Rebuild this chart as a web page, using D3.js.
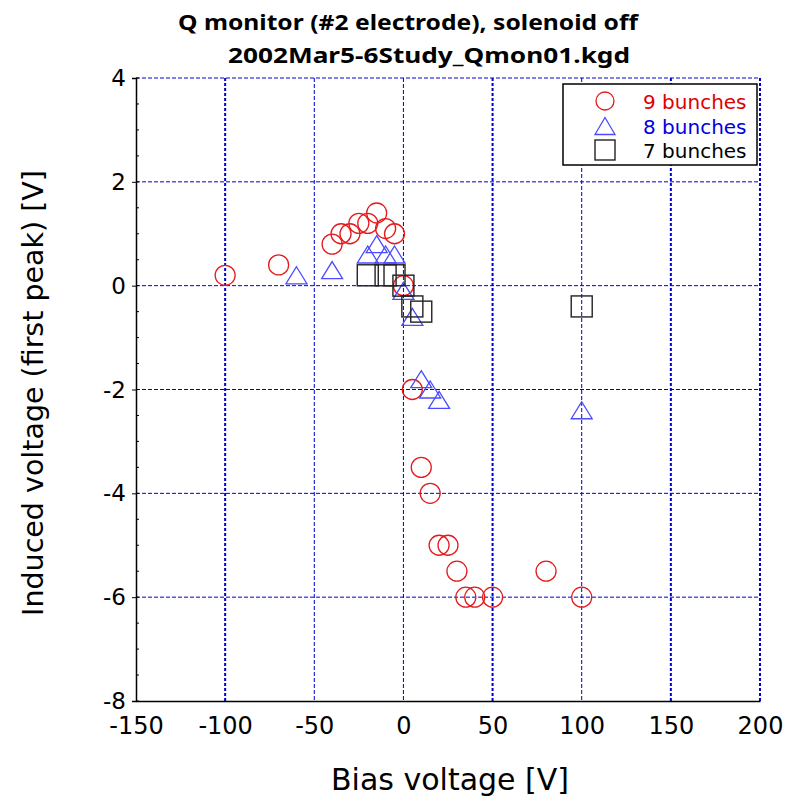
<!DOCTYPE html>
<html>
<head>
<meta charset="utf-8">
<script src="https://cdn.jsdelivr.net/npm/d3@7"></script>
<style>
  html, body { margin: 0; padding: 0; background: #fff; }
  svg { display: block; font-family: "DejaVu Sans", sans-serif; }
</style>
</head>
<body>
<svg id="chart" width="789" height="802"></svg>
<script>
// Bias scan of the Q monitor, electrode #2, solenoid off
const bias9 = [-100, -70, -40, -35, -30, -25, -20, -15, -10, -5, 0, 5, 10, 15, 20, 25, 30, 35, 40, 50, 80, 100];
const volt9 = [0.2, 0.4, 0.8, 1.0, 1.0, 1.2, 1.2, 1.4, 1.1, 1.0, 0, -2, -3.5, -4, -5, -5, -5.5, -6, -6, -6, -5.5, -6];

const bias8 = [-60, -40, -20, -15, -10, -5, 0, 5, 10, 15, 20, 100];
const volt8 = [0.2, 0.3, 0.6, 0.8, 0.6, 0.6, -0.1, -0.6, -1.8, -2.0, -2.2, -2.4];

const bias7 = [-20, -10, -5, 0, 5, 10, 100];
const volt7 = [0.2, 0.2, 0.2, 0, -0.4, -0.5, -0.4];

const xTicks = [-150, -100, -50, 0, 50, 100, 150, 200];
const yTicks = [-8, -6, -4, -2, 0, 2, 4];
const heavyX = [-100, 50, 150, 200];
const lightX = [-50, 0, 100];
const gridY = [-6, -4, -2, 0, 2, 4];

const titleLines = ["Q monitor (#2 electrode), solenoid off", "2002Mar5-6Study_Qmon01.kgd"];
const legendLabels = ["9 bunches", "8 bunches", "7 bunches"];

const svg = d3.select("#chart");
const plotL = 136, plotR = 760, plotT = 78, plotB = 701;

const x = d3.scaleLinear().domain([-150, 200]).range([plotL, plotR]);
const y = d3.scaleLinear().domain([-8, 4]).range([plotB, plotT]);

const gridBlue = "#0000cc";

// grid
const grid = svg.append("g");
grid.selectAll(".gy").data(gridY).join("line")
  .attr("x1", plotL).attr("x2", plotR)
  .attr("y1", d => y(d)).attr("y2", d => y(d))
  .attr("stroke", gridBlue).attr("stroke-width", 1)
  .attr("stroke-dasharray", "4,2");
grid.selectAll(".gxl").data(lightX).join("line")
  .attr("x1", d => x(d)).attr("x2", d => x(d))
  .attr("y1", plotT).attr("y2", plotB)
  .attr("stroke", gridBlue).attr("stroke-width", 1)
  .attr("stroke-dasharray", "4,2");
grid.selectAll(".gxh").data(heavyX).join("line")
  .attr("x1", d => x(d)).attr("x2", d => x(d))
  .attr("y1", plotT).attr("y2", plotB)
  .attr("stroke", gridBlue).attr("stroke-width", 2)
  .attr("stroke-dasharray", "3,2");

// axes
const yAxis = svg.append("g").attr("transform", `translate(${plotL},0)`)
  .call(d3.axisLeft(y).tickValues(yTicks).tickSize(4).tickFormat(d => String(d)));
yAxis.select(".domain").attr("stroke", "#000").attr("stroke-width", 1.5);
yAxis.selectAll("text").attr("font-size", 23).attr("fill", "#000")
  .attr("font-family", "DejaVu Sans").attr("x", -10).attr("dy", "0.33em");

// minor ticks inside the left axis
svg.append("g").selectAll("line").data(d3.range(-8, 4.01, 0.5)).join("line")
  .attr("x1", plotL).attr("x2", plotL + 3)
  .attr("y1", d => y(d)).attr("y2", d => y(d))
  .attr("stroke", "#000").attr("stroke-width", 1);

const xAxis = svg.append("g").attr("transform", `translate(0,${plotB})`)
  .call(d3.axisBottom(x).tickValues(xTicks).tickSize(0).tickFormat(d => String(d)));
xAxis.select(".domain").attr("stroke", "#000").attr("stroke-width", 1.5);
xAxis.selectAll("text").attr("font-size", 24).attr("fill", "#000")
  .attr("font-family", "DejaVu Sans").attr("y", 33).attr("dy", 0);

// markers
const red = "#e41a1c", blue = "#4b4bff", dark = "#222";
const tri = "M0,-8.5L10.5,8.5L-10.5,8.5Z";

svg.append("g").selectAll("circle").data(bias9.map((b, i) => [b, volt9[i]])).join("circle")
  .attr("cx", d => x(d[0])).attr("cy", d => y(d[1])).attr("r", 10)
  .attr("fill", "none").attr("stroke", red).attr("stroke-width", 1.3);

svg.append("g").selectAll("path").data(bias8.map((b, i) => [b, volt8[i]])).join("path")
  .attr("d", tri)
  .attr("transform", d => `translate(${x(d[0])},${y(d[1])})`)
  .attr("fill", "none").attr("stroke", blue).attr("stroke-width", 1.3);

svg.append("g").selectAll("rect").data(bias7.map((b, i) => [b, volt7[i]])).join("rect")
  .attr("x", d => x(d[0]) - 10.5).attr("y", d => y(d[1]) - 10.5)
  .attr("width", 21).attr("height", 21)
  .attr("fill", "none").attr("stroke", dark).attr("stroke-width", 1.4);

// legend
const lg = svg.append("g");
lg.append("rect").attr("x", 563).attr("y", 84).attr("width", 194).attr("height", 81)
  .attr("fill", "#fff").attr("stroke", "#000").attr("stroke-width", 1.5);
const legendColors = [red, blue, dark];
const textColors = ["#e00000", "#0000e0", "#000"];
const rowY = [101, 126, 150];
lg.append("circle").attr("cx", 605).attr("cy", rowY[0]).attr("r", 9)
  .attr("fill", "none").attr("stroke", legendColors[0]).attr("stroke-width", 1.3);
lg.append("path").attr("d", "M0,-8.5L10,8.5L-10,8.5Z")
  .attr("transform", `translate(605,${rowY[1]})`)
  .attr("fill", "none").attr("stroke", legendColors[1]).attr("stroke-width", 1.3);
lg.append("rect").attr("x", 595).attr("y", rowY[2] - 10).attr("width", 20).attr("height", 20)
  .attr("fill", "none").attr("stroke", legendColors[2]).attr("stroke-width", 1.4);
lg.selectAll("text").data(legendLabels).join("text")
  .attr("x", 643).attr("y", (d, i) => rowY[i] + 8)
  .attr("font-size", 20).attr("fill", (d, i) => textColors[i])
  .text(d => d);

// titles
svg.append("text").attr("x", 178).attr("y", 30)
  .attr("font-family", "Noto Sans").attr("font-size", 21).attr("font-weight", "bold")
  .attr("textLength", 460).attr("lengthAdjust", "spacingAndGlyphs")
  .text(titleLines[0]);
svg.append("text").attr("x", 228).attr("y", 63)
  .attr("font-family", "Noto Sans").attr("font-size", 21).attr("font-weight", "bold")
  .attr("textLength", 402).attr("lengthAdjust", "spacingAndGlyphs")
  .text(titleLines[1]);

svg.append("text").attr("x", 450).attr("y", 790).attr("text-anchor", "middle")
  .attr("font-size", 30).text("Bias voltage [V]");
svg.append("text").attr("transform", "translate(43,393) rotate(-90)")
  .attr("text-anchor", "middle").attr("font-size", 28.5)
  .text("Induced voltage (first peak) [V]");
</script>
</body>
</html>
